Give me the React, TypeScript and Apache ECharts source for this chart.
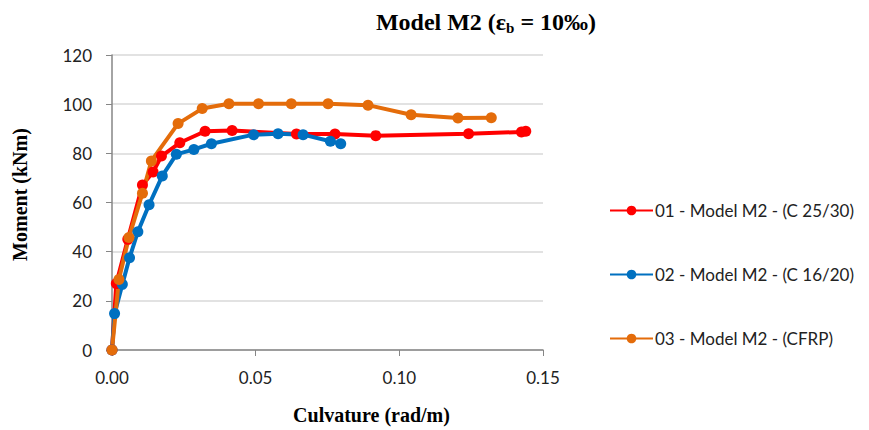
import React, { useEffect, useRef } from "react";
import * as echarts from "echarts";

const seriesNames = [
  "01 - Model M2 - (C 25/30)",
  "02 - Model M2 - (C 16/20)",
  "03 - Model M2 - (CFRP)",
];

const redData: [number, number][] = [
  [0, 0], [0.0015, 27], [0.0055, 45], [0.0106, 67.1], [0.0143, 72.4], [0.0172, 78.9],
  [0.0236, 84.3], [0.0324, 89.0], [0.0418, 89.3], [0.0642, 87.9], [0.0776, 87.9],
  [0.0918, 87.2], [0.1241, 88.0], [0.1425, 88.7], [0.144, 89.0],
];

const blueData: [number, number][] = [
  [0, 0], [0.0009, 14.8], [0.0036, 26.7], [0.0061, 37.5], [0.009, 48.1], [0.0129, 59.1],
  [0.0175, 70.8], [0.0224, 79.6], [0.0285, 81.6], [0.0346, 83.9], [0.0493, 87.6],
  [0.0578, 88.0], [0.0665, 87.6], [0.076, 84.9], [0.0796, 83.9],
];

const orangeData: [number, number][] = [
  [0, 0], [0.0024, 28.7], [0.0059, 45.8], [0.0106, 63.8], [0.0137, 76.9], [0.023, 92.1],
  [0.0314, 98.2], [0.0407, 100.2], [0.051, 100.2], [0.0624, 100.2], [0.0752, 100.2],
  [0.0891, 99.6], [0.1041, 95.7], [0.1204, 94.4], [0.132, 94.5],
];

const colors = ["#FF0000", "#0070C0", "#E46C0A"];

export default function App() {
  const ref = useRef<HTMLDivElement>(null);
  useEffect(() => {
    if (!ref.current) return;
    const chart = echarts.init(ref.current, null, { renderer: "svg" });
    const tickFont = { fontFamily: "Lato", fontSize: 17, color: "#222" };
    const nameFont = { fontFamily: "Liberation Serif", fontWeight: "bold", fontSize: 20, color: "#000" };
    const mk = (name: string, data: [number, number][], color: string) => ({
      name,
      type: "line",
      data,
      symbol: "circle",
      symbolSize: 11,
      lineStyle: { color, width: 4 },
      itemStyle: { color },
      z: 2,
    });
    chart.setOption({
      animation: false,
      backgroundColor: "#fff",
      title: {
        text: "{a|Model M2 (ε}{s|b}{a| = 10‰)}",
        left: 481,
        textAlign: "center",
        top: 3,
        textStyle: {
          rich: {
            a: { fontFamily: "Liberation Serif", fontWeight: "bold", fontSize: 24, color: "#000" },
            s: { fontFamily: "Liberation Serif", fontWeight: "bold", fontSize: 15, color: "#000", padding: [12, 0, 0, 0] },
          },
        },
      },
      grid: { left: 112, right: 326, top: 55, bottom: 79 },
      legend: {
        orient: "vertical",
        left: 604,
        top: 197,
        itemGap: 47,
        itemWidth: 43,
        itemHeight: 12,
        textStyle: { fontFamily: "Lato", fontSize: 17, color: "#222", padding: [0, 0, 0, -3] },
        data: seriesNames,
      },
      xAxis: {
        type: "value",
        min: 0,
        max: 0.15,
        interval: 0.05,
        name: "Culvature (rad/m)",
        nameLocation: "middle",
        nameGap: 55,
        nameTextStyle: { ...nameFont, padding: [0, 0, 0, 88] },
        axisLine: { show: true, lineStyle: { color: "#868686", width: 1.5 } },
        axisTick: { show: true, length: 6, lineStyle: { color: "#868686" } },
        splitLine: { show: false },
        axisLabel: { ...tickFont, margin: 19, formatter: (v: number) => v.toFixed(2) },
      },
      yAxis: {
        type: "value",
        min: 0,
        max: 120,
        interval: 20,
        name: "Moment (kNm)",
        nameLocation: "middle",
        nameGap: 82,
        nameTextStyle: { ...nameFont, padding: [0, 0, 0, 16] },
        axisLine: { show: true, lineStyle: { color: "#868686", width: 1.5 } },
        axisTick: { show: true, length: 6, lineStyle: { color: "#868686" } },
        splitLine: { show: true, lineStyle: { color: "#D9D9D9", width: 1.5 } },
        axisLabel: { ...tickFont, margin: 20 },
      },
      series: [
        mk(seriesNames[0], redData, colors[0]),
        mk(seriesNames[1], blueData, colors[1]),
        mk(seriesNames[2], orangeData, colors[2]),
      ],
    });
    return () => chart.dispose();
  }, []);
  return (
    <div
      ref={ref}
      style={{ position: "fixed", left: 0, top: 0, width: 869, height: 430 }}
    />
  );
}
